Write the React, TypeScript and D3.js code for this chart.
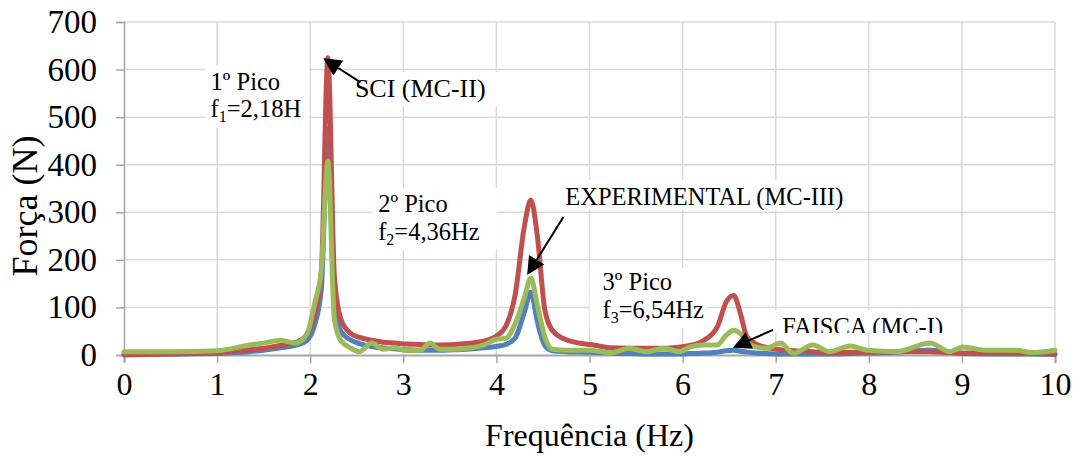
import React, { useRef, useEffect } from 'react';
import * as d3 from 'd3';

// frequência (Hz)
const freqs = [
  0, 0.5, 1.0, 1.2, 1.35, 1.5, 1.68, 1.84, 1.96, 2.05, 2.12, 2.19, 2.26, 2.33, 2.43, 2.53, 2.66, 2.78, 2.91, 3.04,
  3.18, 3.29, 3.39, 3.54, 3.68, 3.86, 4.0, 4.1, 4.2, 4.3, 4.37, 4.44, 4.52, 4.6, 4.75, 5.0, 5.1, 5.22, 5.43, 5.61,
  5.8, 5.97, 6.08, 6.22, 6.37, 6.47, 6.55, 6.62, 6.69, 6.78, 6.9, 7.05, 7.19, 7.4, 7.58, 7.8, 7.98, 8.3, 8.66, 8.87,
  9.01, 9.26, 9.58, 9.76, 10.0,
];

// FAISCA (MC-I)
const faisca = [
  2, 2, 3, 5, 7, 10, 15, 20, 30, 65, 140, 475, 120, 50, 32, 24, 18, 15, 13, 11,
  10, 10, 10, 11, 12, 15, 18, 22, 35, 90, 132, 70, 20, 9, 7, 6, 5, 4, 3, 2,
  2, 2, 3, 4, 6, 9, 10, 8, 6, 4, 3, 2, 2, 2, 2, 3, 4, 6, 10, 6,
  3, 2, 2, 2, 1,
];

// SCI (MC-II)
const sci = [
  0, 2, 5, 8, 11, 14, 20, 26, 42, 85, 175, 625, 165, 75, 46, 37, 31, 27, 25, 23,
  22, 21, 21, 22, 24, 29, 40, 60, 125, 270, 326, 250, 95, 52, 32, 22, 19, 15, 14, 14,
  14, 17, 20, 30, 58, 112, 125, 88, 38, 24, 16, 11, 9, 7, 5, 6, 6, 7, 7, 5,
  4, 4, 3, 3, 2,
];

// EXPERIMENTAL (MC-III)
const experimental = [
  7, 7, 9, 15, 21, 25, 31, 25, 42, 110, 180, 408, 75, 30, 15, 7, 25, 12, 15, 9,
  10, 25, 12, 12, 14, 21, 33, 35, 65, 120, 162, 105, 38, 12, 10, 10, 8, 4, 14, 7,
  14, 7, 17, 21, 21, 42, 52, 45, 28, 17, 14, 25, 4, 21, 7, 19, 10, 7, 25, 7,
  17, 10, 10, 5, 10,
];

const xTicks = [0, 1, 2, 3, 4, 5, 6, 7, 8, 9, 10];
const yTicks = [0, 100, 200, 300, 400, 500, 600, 700];

const series = [
  { name: 'FAISCA (MC-I)', values: faisca, color: '#4F81BD' },
  { name: 'SCI (MC-II)', values: sci, color: '#C0504D' },
  { name: 'EXPERIMENTAL (MC-III)', values: experimental, color: '#9BBB59' },
];

// caixas de texto (em unidades do gráfico)
const boxes = [
  { x0: 0.87, x1: 1.99, y0: 608, y1: 477, tx: 0.93, size: 24.5, lines: [{ y: 557, parts: ['1º Pico'] }, { y: 500, parts: ['f', '1', '=2,18H'] }] },
  { x0: 2.43, x1: 4.04, y0: 595, y1: 523, tx: 2.48, size: 26, lines: [{ y: 542, parts: ['SCI (MC-II)'] }] },
  { x0: 2.66, x1: 4.01, y0: 351, y1: 221, tx: 2.73, size: 24.5, lines: [{ y: 301, parts: ['2º Pico'] }, { y: 242, parts: ['f', '2', '=4,36Hz'] }] },
  { x0: 4.66, x1: 7.74, y0: 368, y1: 305, tx: 4.74, size: 24.5, lines: [{ y: 315, parts: ['EXPERIMENTAL (MC-III)'] }] },
  { x0: 5.0, x1: 6.26, y0: 183, y1: 57, tx: 5.14, size: 24.5, lines: [{ y: 137, parts: ['3º Pico'] }, { y: 78, parts: ['f', '3', '=6,54Hz'] }] },
  { x0: 6.99, x1: 8.82, y0: 95, y1: 46, tx: 7.07, size: 24.5, lines: [{ y: 42, parts: ['FAISCA (MC-I)'] }] },
];

const arrows = [
  { from: [2.54, 573], to: [2.14, 624] },
  { from: [4.72, 290], to: [4.33, 168] },
  { from: [6.97, 53], to: [6.54, 15] },
];

const W = 1073;
const H = 457;
const margin = { top: 22, right: 18, bottom: 102, left: 124 };
const font = '"Liberation Serif", "Times New Roman", serif';

const App: React.FC = () => {
  const svgRef = useRef<SVGSVGElement>(null);

  useEffect(() => {
    if (!svgRef.current) return;
    const svg = d3.select(svgRef.current);
    svg.selectAll('*').remove();

    const innerW = W - margin.left - margin.right;
    const innerH = H - margin.top - margin.bottom;

    const x = d3.scaleLinear().domain([0, 10]).range([margin.left, margin.left + innerW]);
    const y = d3.scaleLinear().domain([0, 700]).range([margin.top + innerH, margin.top]);

    svg.append('rect').attr('width', W).attr('height', H).attr('fill', '#fff');

    // grade
    svg.append('g')
      .selectAll('line')
      .data(yTicks.filter((d) => d > 0))
      .enter()
      .append('line')
      .attr('x1', x(0))
      .attr('x2', x(10))
      .attr('y1', (d) => y(d))
      .attr('y2', (d) => y(d))
      .attr('stroke', '#d9d9d9')
      .attr('stroke-width', 1.5);

    svg.append('g')
      .selectAll('line')
      .data(xTicks.filter((d) => d > 0))
      .enter()
      .append('line')
      .attr('x1', (d) => x(d))
      .attr('x2', (d) => x(d))
      .attr('y1', y(0))
      .attr('y2', y(700))
      .attr('stroke', '#d9d9d9')
      .attr('stroke-width', 1.5);

    // eixo Y
    const yAxis = svg.append('g')
      .attr('transform', `translate(${x(0)},0)`)
      .call(d3.axisLeft(y).tickValues(yTicks).tickSize(8).tickPadding(19).tickFormat((d) => String(d)));
    yAxis.select('.domain').attr('stroke', '#a6a6a6').attr('stroke-width', 1.5);
    yAxis.selectAll('line').attr('stroke', '#a6a6a6').attr('stroke-width', 1.5);
    yAxis.selectAll('text')
      .attr('fill', '#000')
      .style('font-family', font)
      .style('font-size', '33px');

    // eixo X
    const xAxis = svg.append('g')
      .attr('transform', `translate(0,${y(0)})`)
      .call(d3.axisBottom(x).tickValues(xTicks).tickSize(8).tickPadding(9).tickFormat((d) => String(d)));
    xAxis.select('.domain').attr('stroke', '#a6a6a6').attr('stroke-width', 2);
    xAxis.selectAll('line').attr('stroke', '#a6a6a6').attr('stroke-width', 1.5);
    xAxis.selectAll('text')
      .attr('fill', '#000')
      .style('font-family', font)
      .style('font-size', '32px');

    // títulos dos eixos
    svg.append('text')
      .attr('x', x(5))
      .attr('y', 446)
      .attr('text-anchor', 'middle')
      .style('font-family', font)
      .style('font-size', '32px')
      .text('Frequência (Hz)');

    svg.append('text')
      .attr('transform', `translate(37,206) rotate(-90)`)
      .attr('text-anchor', 'middle')
      .style('font-family', font)
      .style('font-size', '36px')
      .text('Força (N)');

    // séries
    const line = d3.line<number>()
      .x((_, i) => x(freqs[i]))
      .y((d) => y(d))
      .curve(d3.curveMonotoneX);

    series.forEach((s) => {
      svg.append('path')
        .datum(s.values)
        .attr('fill', 'none')
        .attr('stroke', s.color)
        .attr('stroke-width', 5)
        .attr('stroke-linejoin', 'round')
        .attr('stroke-linecap', 'round')
        .attr('d', line);
    });

    // caixas de texto
    const defs = svg.append('defs');
    boxes.forEach((b, i) => {
      defs.append('clipPath')
        .attr('id', `box-clip-${i}`)
        .append('rect')
        .attr('x', x(b.x0))
        .attr('y', y(b.y0))
        .attr('width', x(b.x1) - x(b.x0))
        .attr('height', y(b.y1) - y(b.y0));

      const g = svg.append('g');
      g.append('rect')
        .attr('x', x(b.x0))
        .attr('y', y(b.y0))
        .attr('width', x(b.x1) - x(b.x0))
        .attr('height', y(b.y1) - y(b.y0))
        .attr('fill', '#fff');

      const tg = g.append('g').attr('clip-path', `url(#box-clip-${i})`);
      b.lines.forEach((ln) => {
        const t = tg.append('text')
          .attr('x', x(b.tx))
          .attr('y', y(ln.y))
          .style('font-family', font)
          .style('font-size', `${b.size}px`)
          .attr('fill', '#000');
        if (ln.parts.length === 1) {
          t.text(ln.parts[0]);
        } else {
          t.append('tspan').text(ln.parts[0]);
          t.append('tspan').attr('dy', 5).style('font-size', '16px').text(ln.parts[1]);
          t.append('tspan').attr('dy', -5).text(ln.parts[2]);
        }
      });
    });

    // setas
    arrows.forEach((a) => {
      const x1 = x(a.from[0]);
      const y1 = y(a.from[1]);
      const x2 = x(a.to[0]);
      const y2 = y(a.to[1]);
      const ang = Math.atan2(y2 - y1, x2 - x1);
      const len = 18;
      const half = 9;
      const bx = x2 - len * Math.cos(ang);
      const by = y2 - len * Math.sin(ang);
      svg.append('line')
        .attr('x1', x1)
        .attr('y1', y1)
        .attr('x2', bx)
        .attr('y2', by)
        .attr('stroke', '#000')
        .attr('stroke-width', 2);
      const pts = [
        [x2, y2],
        [bx + half * Math.sin(ang), by - half * Math.cos(ang)],
        [bx - half * Math.sin(ang), by + half * Math.cos(ang)],
      ];
      svg.append('polygon')
        .attr('points', pts.map((p) => p.join(',')).join(' '))
        .attr('fill', '#000');
    });
  }, []);

  return (
    <svg
      ref={svgRef}
      width={W}
      height={H}
      style={{ position: 'absolute', left: 0, top: 0, display: 'block' }}
    />
  );
};

export default App;
